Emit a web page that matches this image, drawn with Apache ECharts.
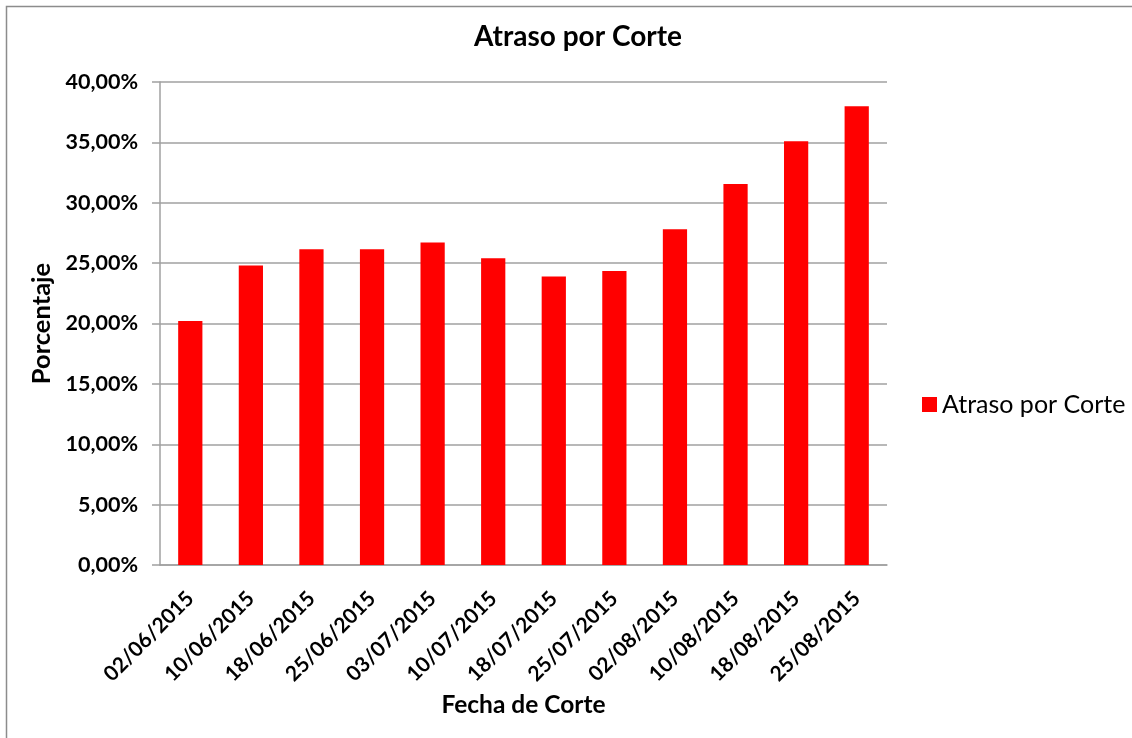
<!DOCTYPE html>
<html>
<head>
<meta charset="utf-8">
<script src="https://cdn.jsdelivr.net/npm/echarts@6/dist/echarts.min.js"></script>
<style>
html,body{margin:0;padding:0;background:#fff;}
#c{width:1132px;height:738px;}
</style>
</head>
<body>
<div id="c"></div>
<script>
var categories = ["02/06/2015","10/06/2015","18/06/2015","25/06/2015","03/07/2015","10/07/2015","18/07/2015","25/07/2015","02/08/2015","10/08/2015","18/08/2015","25/08/2015"];
var values = [0.202,0.248,0.2615,0.2615,0.267,0.254,0.239,0.2435,0.278,0.3155,0.351,0.380];
var seriesName = "Atraso por Corte";
var yMin = 0, yMax = 0.4, yStep = 0.05;

var FONT = "Lato";
var chart = echarts.init(document.getElementById('c'), null, {renderer:'canvas'});
chart.setOption({
  animation:false,
  backgroundColor:'#fff',
  textStyle:{fontFamily:FONT},
  graphic:[{type:'rect',shape:{x:6.5,y:6.5,width:1300,height:900},style:{fill:'none',stroke:'#8c8c8c',lineWidth:1.5},silent:true}],
  title:{text:"Atraso por Corte",left:573,textAlign:'center',top:18,
    textStyle:{fontFamily:FONT,fontWeight:'bold',fontSize:28,color:'#000'}},
  legend:{left:917,top:387,itemWidth:15,itemHeight:15,icon:'rect',itemGap:8,
    textStyle:{fontFamily:FONT,fontSize:25,color:'#000'},data:[seriesName]},
  grid:{left:160,right:245,top:82,bottom:173},
  xAxis:{type:'category',data:categories,
    axisLine:{show:true,lineStyle:{color:'#a0a0a0',width:1.5}},
    axisTick:{show:false},
    axisLabel:{rotate:45,interval:0,margin:30,fontFamily:FONT,fontWeight:'bold',fontSize:21,color:'#000'},
    name:"Fecha de Corte",nameLocation:'middle',nameGap:126,
    nameTextStyle:{fontFamily:FONT,fontWeight:'bold',fontSize:24.5,color:'#000'}},
  yAxis:{type:'value',min:yMin,max:yMax,interval:yStep,
    axisLine:{show:true,lineStyle:{color:'#a0a0a0',width:1.5}},
    axisTick:{show:true,length:8,inside:false,lineStyle:{color:'#a0a0a0',width:1.5}},
    splitLine:{show:true,lineStyle:{color:'#a0a0a0',width:1.5}},
    axisLabel:{margin:22,fontFamily:FONT,fontWeight:'bold',fontSize:21.5,color:'#000',
      formatter:function(v){return (v*100).toFixed(2).replace('.',',')+'%';}},
    name:"Porcentaje",nameLocation:'middle',nameGap:105,nameRotate:90,nameMoveOverlap:false,
    nameTextStyle:{fontFamily:FONT,fontWeight:'bold',fontSize:25.5,color:'#000'}},
  series:[{name:seriesName,type:'bar',data:values,barWidth:'40%',
    itemStyle:{color:'#ff0000'}}]
});
</script>
</body>
</html>
